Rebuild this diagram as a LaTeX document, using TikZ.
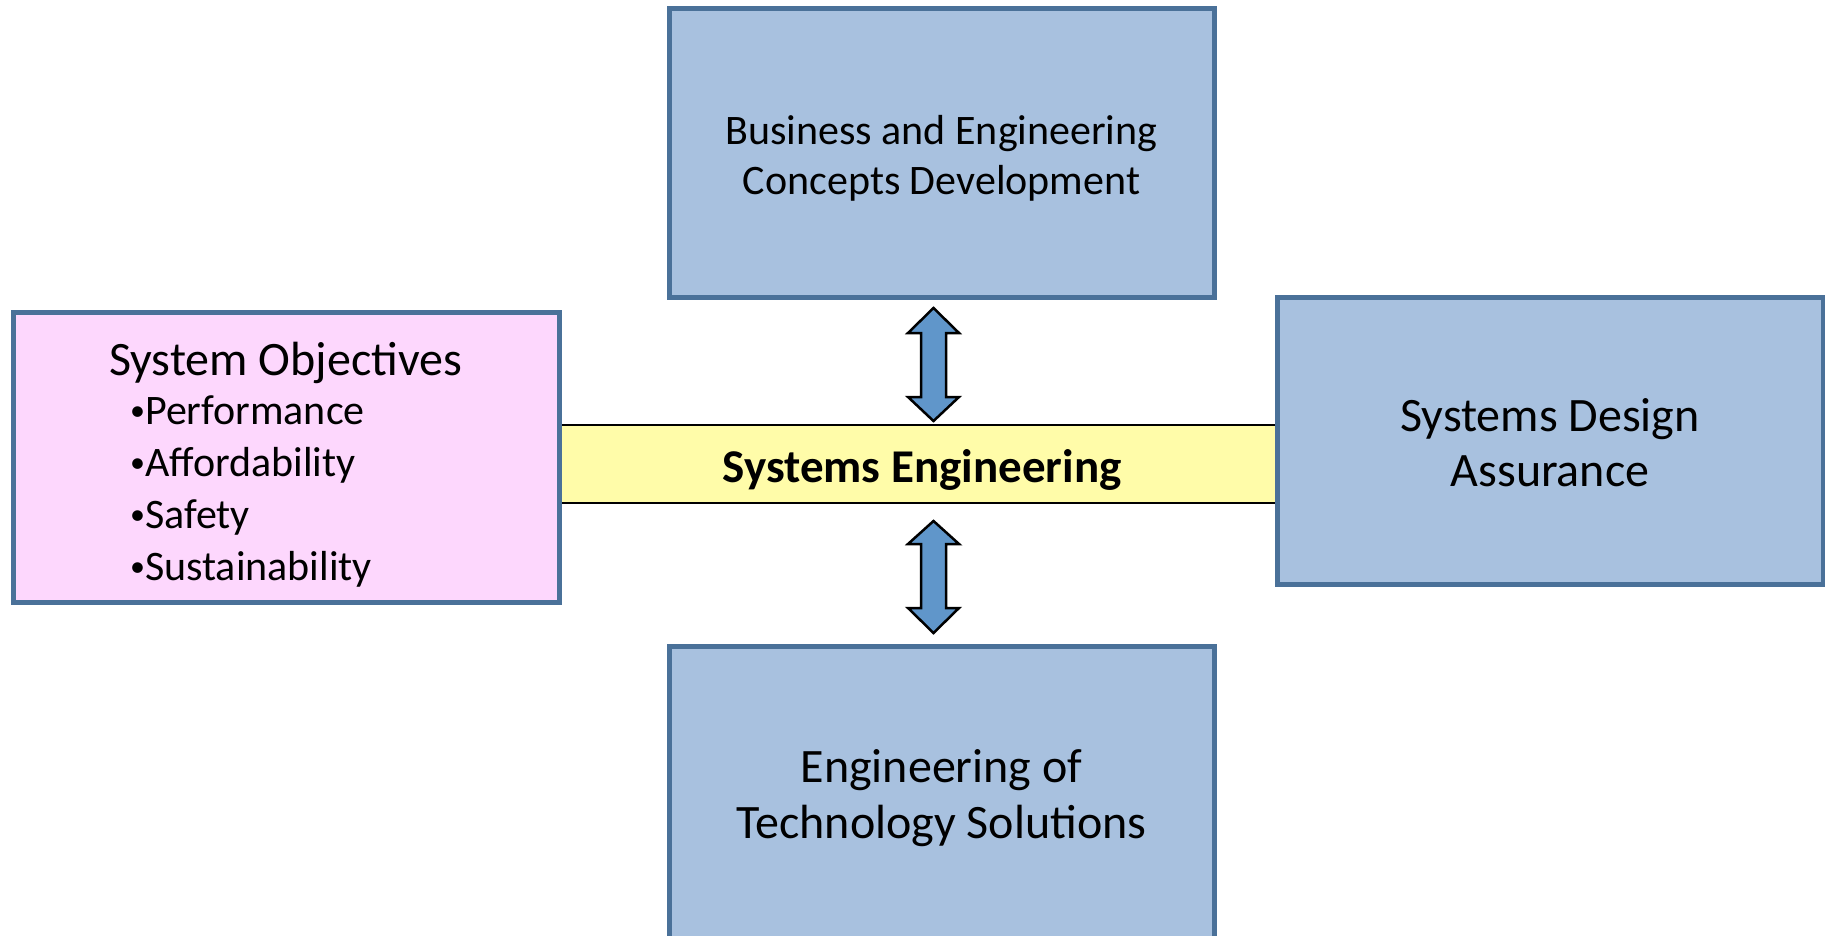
\documentclass[tikz,border=0pt]{standalone}
\usepackage{fontspec}
\setmainfont{Carlito}
\definecolor{boxfill}{HTML}{A8C1DF}
\definecolor{boxline}{HTML}{4A7199}
\definecolor{pinkfill}{HTML}{FDD7FD}
\definecolor{bandfill}{HTML}{FFFCA9}
\definecolor{arrowfill}{HTML}{6096CA}
\newcommand{\smbul}{\raisebox{0.2ex}{\fontsize{30}{30}\selectfont •}}
\tikzset{
  bluebox/.style={draw=boxline, fill=boxfill, line width=5pt, rectangle, inner sep=0pt},
  pinkbox/.style={draw=boxline, fill=pinkfill, line width=5pt, rectangle, inner sep=0pt},
  blockarrow/.style={draw=black, fill=arrowfill, line width=2.5pt, line join=miter},
  boxtext/.style={align=center, inner sep=0pt},
}
\begin{document}
\begin{tikzpicture}[x=1pt,y=-1pt]
\useasboundingbox (0,0) rectangle (1825,936);
\clip (0,0) rectangle (1825,936);
% band
\fill[bandfill] (559,425) rectangle (1277,503);
\coordinate (bandTL) at (559,425);
\coordinate (bandTR) at (1277,425);
\coordinate (bandBL) at (559,503);
\coordinate (bandBR) at (1277,503);
\draw[line width=2.5pt] (bandTL) -- (bandTR);
\draw[line width=2.5pt] (bandBL) -- (bandBR);
\node[boxtext, font=\fontsize{47}{54}\selectfont\bfseries] (se) at (922,470) {Systems Engineering};
% boxes
\node[bluebox, minimum width=545pt, minimum height=288pt] (top) at (941.5,153) {};
\node[boxtext, font=\fontsize{42}{50}\selectfont] (toptext) at (941.5,158) {Business and Engineering\\Concepts Development};
\node[pinkbox, minimum width=546pt, minimum height=290pt] (left) at (286,457) {};
\node[boxtext, font=\fontsize{48}{55}\selectfont, anchor=center] (objtitle) at (285.5,363) {System Objectives};
\node[align=left, inner sep=0pt, anchor=north west, font=\fontsize{42}{52}\selectfont] (objlist) at (130,396)
  {\smbul Performance\\\smbul Affordability\\\smbul Safety\\\smbul Sustainability};
\node[bluebox, minimum width=546pt, minimum height=287pt] (right) at (1550,440.5) {};
\node[boxtext, font=\fontsize{48}{55}\selectfont] (righttext) at (1550,443) {Systems Design\\Assurance};
\node[bluebox, minimum width=545pt, minimum height=300pt] (bottom) at (941.5,796) {};
\node[boxtext, font=\fontsize{48}{56}\selectfont] (bottomtext) at (941.5,798) {Engineering of\\Technology Solutions};
% block arrows
\draw[blockarrow] (933.5,308) -- (959,333) -- (946,333) -- (946,397) -- (959,397) -- (933.5,421)
  -- (908,397) -- (921,397) -- (921,333) -- (908,333) -- cycle;
\draw[blockarrow] (933.5,521) -- (959,544) -- (946,544) -- (946,608) -- (959,608) -- (933.5,633)
  -- (908,608) -- (921,608) -- (921,544) -- (908,544) -- cycle;
\end{tikzpicture}
\end{document}
